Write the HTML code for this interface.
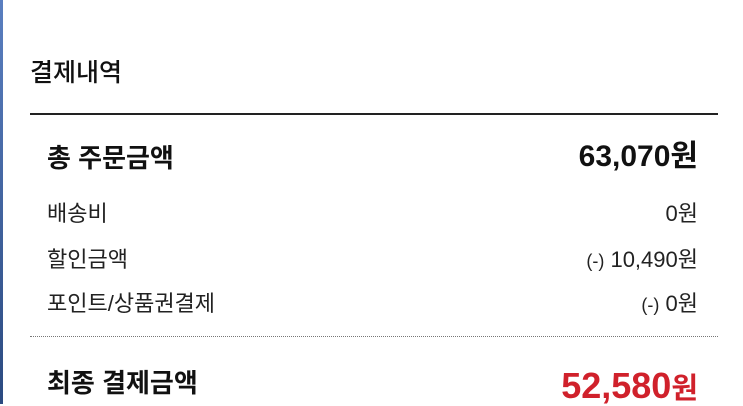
<!DOCTYPE html>
<html><head><meta charset="utf-8"><style>
body{margin:0;width:743px;height:404px;overflow:hidden;background:#fff;position:relative;font-family:"Liberation Sans","Noto Sans CJK KR",sans-serif;color:#111}
.edge{position:absolute;left:0;top:0;width:3px;height:404px;background:linear-gradient(#5a7fc0,#2b4a80)}
.t{position:absolute;white-space:nowrap;line-height:1}
.r{right:45px;text-align:right}
.s{font-size:0.82em}
</style></head><body>
<div class="edge"></div>
<div class="t" style="left:30px;top:61px;font-size:25px;font-weight:500">결제내역</div>
<div style="position:absolute;left:30px;top:113px;width:688px;height:2px;background:#222"></div>
<div class="t" style="left:47px;top:145px;font-size:26px;font-weight:bold">총 주문금액</div>
<div class="t r" style="top:142px;font-size:30px;font-weight:bold">63,070원</div>
<div class="t" style="left:47px;top:203px;font-size:22px;color:#222">배송비</div>
<div class="t r" style="top:203px;font-size:22px;color:#222">0원</div>
<div class="t" style="left:47px;top:249px;font-size:22px;color:#222">할인금액</div>
<div class="t r" style="top:249px;font-size:22px;color:#222"><span class="s">(-)</span> 10,490원</div>
<div class="t" style="left:47px;top:293px;font-size:22px;color:#222">포인트/상품권결제</div>
<div class="t r" style="top:293px;font-size:22px;color:#222"><span class="s">(-)</span> 0원</div>
<div style="position:absolute;left:30px;top:336px;width:688px;border-top:1px dotted #777"></div>
<div class="t" style="left:47px;top:370px;font-size:26px;font-weight:bold">최종 결제금액</div>
<div class="t r" style="top:368px;font-size:36px;font-weight:bold;color:#d0212b">52,580<span style="font-size:29px">원</span></div>
</body></html>
